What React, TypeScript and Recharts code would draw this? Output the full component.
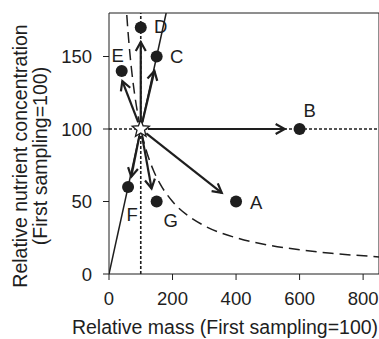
import { ComposedChart, XAxis, YAxis, Line, Scatter, ReferenceLine, LabelList } from "recharts";

// sampling points, relative to first sampling (=100)
const pointNames = ["A", "B", "C", "D", "E", "F", "G"];
const pointMass = [400, 600, 150, 100, 40, 60, 150];
const pointConc = [50, 100, 150, 170, 140, 60, 50];

// arrow tips (arrows start at the star, first sampling)
const arrowTipMass = [355, 553, 143, 100, 42, 70, 134];
const arrowTipConc = [56, 100, 140, 160, 133, 67, 59];

// reference lines: constant concentration ratio (y = x) and constant content (dashed)
const propMass = [0, 180];
const propConc = [0, 180];
const contentMass = [56, 60, 70, 80, 90, 100, 120, 140, 160, 200, 250, 300, 400, 500, 600, 700, 850];
const contentConc = [178.6, 166.7, 142.9, 125, 111.1, 100, 83.3, 71.4, 62.5, 50, 40, 33.3, 25, 20, 16.7, 14.3, 11.8];

const xTicks = [0, 200, 400, 600, 800];
const yTicks = [0, 50, 100, 150];

const points = pointNames.map((name, i) => ({ name, x: pointMass[i], y: pointConc[i] }));
const propLine = propMass.map((x, i) => ({ x, y: propConc[i] }));
const contentLine = contentMass.map((x, i) => ({ x, y: contentConc[i] }));
const start = [{ x: 100, y: 100 }];

const FONT = "'Liberation Sans', Arial, sans-serif";
const INK = "#1e1e1e";

const labelOffset: Record<string, [number, number]> = {
  A: [20, 1],
  B: [10, -19],
  C: [20, 0],
  D: [20, -1],
  E: [-4, -16],
  F: [4, 27],
  G: [14, 19],
};

const Arrow = (props: any) => {
  const { x1, y1, x2, y2 } = props;
  const dx = x2 - x1;
  const dy = y2 - y1;
  const len = Math.sqrt(dx * dx + dy * dy);
  const ux = dx / len;
  const uy = dy / len;
  const sx = x1 + ux * 7;
  const sy = y1 + uy * 7;
  const h = 9;
  const w = 5;
  const bx = x2 - ux * h;
  const by = y2 - uy * h;
  return (
    <g>
      <line x1={sx} y1={sy} x2={x2} y2={y2} stroke={INK} strokeWidth={2.2} />
      <polyline
        points={`${bx - uy * w},${by + ux * w} ${x2},${y2} ${bx + uy * w},${by - ux * w}`}
        fill="none"
        stroke={INK}
        strokeWidth={2.2}
      />
    </g>
  );
};

const Star = (props: any) => {
  const { cx, cy } = props;
  const pts: string[] = [];
  for (let i = 0; i < 10; i++) {
    const r = i % 2 === 0 ? 9 : 4;
    const a = -Math.PI / 2 + (i * Math.PI) / 5;
    pts.push(`${cx + r * Math.cos(a)},${cy + r * Math.sin(a)}`);
  }
  return <polygon points={pts.join(" ")} fill="#fff" stroke={INK} strokeWidth={1.3} />;
};

const Dot = (props: any) => <circle cx={props.cx} cy={props.cy} r={6} fill={INK} />;

const PointLabel = (props: any) => {
  const { x, y, width, height, value } = props;
  const cx = x + width / 2;
  const cy = y + height / 2;
  const [ox, oy] = labelOffset[value] || [0, 0];
  return (
    <text x={cx + ox} y={cy + oy} textAnchor="middle" dominantBaseline="central" fontSize={18.5} fill={INK} fontFamily={FONT}>
      {value}
    </text>
  );
};

export default function App() {
  const tick = { fontSize: 18.5, fill: INK, fontFamily: FONT };
  return (
    <div style={{ position: "absolute", left: 0, top: 0, background: "#fff" }}>
      <ComposedChart width={379} height={339} margin={{ top: 13, right: 0, bottom: 0, left: 0 }}>
        <XAxis
          type="number"
          dataKey="x"
          domain={[0, 850]}
          ticks={xTicks}
          allowDataOverflow
          height={65}
          tickSize={6}
          tickMargin={12}
          tick={tick}
          stroke={INK}
        />
        <YAxis
          type="number"
          dataKey="y"
          domain={[0, 180]}
          ticks={yTicks}
          allowDataOverflow
          width={109}
          tickSize={6}
          tickMargin={11}
          tick={tick}
          stroke={INK}
        />
        <ReferenceLine x={850} stroke={INK} />
        <ReferenceLine y={180} stroke={INK} />
        <ReferenceLine x={100} stroke={INK} strokeWidth={1.6} strokeDasharray="3 2" />
        <ReferenceLine y={100} stroke={INK} strokeWidth={1.6} strokeDasharray="3 2" />
        <Line data={propLine} dataKey="y" type="linear" stroke={INK} strokeWidth={1.5} dot={false} isAnimationActive={false} />
        <Line data={contentLine} dataKey="y" type="monotone" stroke={INK} strokeWidth={1.5} strokeDasharray="11 6" dot={false} isAnimationActive={false} />
        {pointNames.map((n, i) => (
          <ReferenceLine
            key={n}
            segment={[
              { x: 100, y: 100 },
              { x: arrowTipMass[i], y: arrowTipConc[i] },
            ]}
            shape={Arrow}
          />
        ))}
        <Scatter data={start} shape={Star} isAnimationActive={false} />
        <Scatter data={points} shape={Dot} isAnimationActive={false}>
          <LabelList dataKey="name" content={PointLabel} />
        </Scatter>
        <text x={225} y={334} textAnchor="middle" fontSize={19.5} fill={INK} fontFamily={FONT}>
          Relative mass (First sampling=100)
        </text>
        <text transform="translate(27,156) rotate(-90)" textAnchor="middle" fontSize={19.5} fill={INK} fontFamily={FONT}>
          Relative nutrient concentration
        </text>
        <text transform="translate(47,156) rotate(-90)" textAnchor="middle" fontSize={19.5} fill={INK} fontFamily={FONT}>
          (First sampling=100)
        </text>
      </ComposedChart>
    </div>
  );
}
